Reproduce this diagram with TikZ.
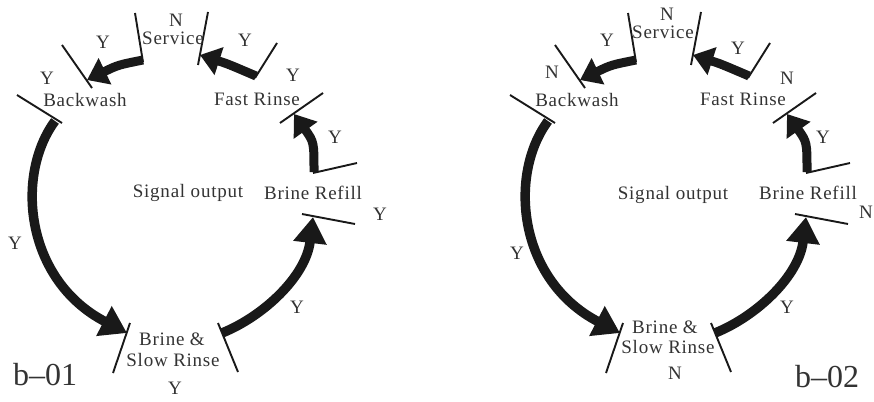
\documentclass[tikz,border=0pt]{standalone}
\usepackage{fontspec}
\setmainfont{Liberation Serif}
\newfontfamily\lblfont[LetterSpace=4]{Liberation Serif}
\usetikzlibrary{arrows.meta}
\definecolor{ink}{gray}{0.1}
\definecolor{txt}{gray}{0.2}
\tikzset{
 tickline/.style={draw=ink, line width=1.9pt},
 bigarrow/.style={draw=ink, line width=9.5pt, -{Triangle[length=26pt,width=32pt]}},
 smallarrow/.style={draw=ink, line width=9pt, -{Triangle[length=20pt,width=28pt]}},
 lbl/.style={text=txt, font=\lblfont\fontsize{19}{21}\selectfont, inner sep=0pt},
 tag/.style={text=txt, font=\fontsize{32}{34}\selectfont, inner sep=0pt}
}
% one wash cycle: ticks and arrows, coordinates named with prefix #1
\newcommand\drawcycle[1]{%
 \coordinate (#1bwl1) at (17,95);   \coordinate (#1bwl2) at (62,123);
 \coordinate (#1bwu1) at (62,45);   \coordinate (#1bwu2) at (92,88);
 \coordinate (#1svl1) at (135,13);  \coordinate (#1svl2) at (143,62);
 \coordinate (#1svr1) at (208,12);  \coordinate (#1svr2) at (198,65);
 \coordinate (#1fru1) at (277,43);  \coordinate (#1fru2) at (255,78);
 \coordinate (#1frl1) at (323,93);  \coordinate (#1frl2) at (280,123);
 \coordinate (#1bru1) at (313,173); \coordinate (#1bru2) at (357,163);
 \coordinate (#1brl1) at (302,214); \coordinate (#1brl2) at (355,224);
 \coordinate (#1bsr1) at (218,323); \coordinate (#1bsr2) at (238,372);
 \coordinate (#1bsl1) at (130,323); \coordinate (#1bsl2) at (113,373);
 % arrow ends
 \coordinate (#1sv) at (143,60);  \coordinate (#1bw) at (87,80);
 \coordinate (#1fr) at (256,76);  \coordinate (#1svt) at (200,55);
 \coordinate (#1br) at (314,172); \coordinate (#1frt) at (294,114);
 \coordinate (#1bws) at (55,121); \coordinate (#1bst) at (127,333);
 \coordinate (#1bss) at (222,333);\coordinate (#1brt) at (313,217);
 \foreach \t in {bwl,bwu,svl,svr,fru,frl,bru,brl,bsr,bsl}
   {\draw[tickline] (#1\t1) -- (#1\t2);}
 \draw[smallarrow] (#1sv) .. controls (118,65) .. (#1bw);
 \draw[smallarrow] (#1fr) .. controls (228,64) .. (#1svt);
 \draw[smallarrow] (#1br) .. controls (314,142) .. (#1frt);
 \draw[bigarrow] (#1bws) .. controls (15,175) and (25,280) .. (#1bst);
 \draw[bigarrow] (#1bss) .. controls (264,316) and (306,276) .. (#1brt);
}
\begin{document}
\begin{tikzpicture}[x=1pt,y=-1pt]
\useasboundingbox (0,0) rectangle (874,401);
\fill[white] (0,0) rectangle (874,401);
% ---------- left diagram b-01 ----------
\begin{scope}
 \drawcycle{L}
\end{scope}
\node[lbl] (LN1) at (176,20) {N};
\node[lbl] (Lsv) at (173,38) {Service};
\node[lbl] (LY1) at (103,42) {Y};
\node[lbl] (LY2) at (47,78) {Y};
\node[lbl] (Lbw) at (85,100) {Backwash};
\node[lbl] (LY3) at (245,40) {Y};
\node[lbl] (LY4) at (293,75) {Y};
\node[lbl] (Lfr) at (257,99) {Fast Rinse};
\node[lbl] (LY5) at (335,137) {Y};
\node[lbl] (Lbr) at (313,193) {Brine Refill};
\node[lbl] (LY6) at (380,214) {Y};
\node[lbl] (Lso) at (188,193) {Signal output};
\node[lbl] (LY7) at (15,243) {Y};
\node[lbl] (LY8) at (297,307) {Y};
\node[lbl] (Lbs1) at (172,339) {Brine \&};
\node[lbl] (Lbs2) at (173,360) {Slow Rinse};
\node[lbl] (LY9) at (175,388) {Y};
\node[tag] (Ltag) at (45,375) {b–01};
% ---------- right diagram b-02 ----------
\begin{scope}[xshift=493pt]
 \drawcycle{R}
\end{scope}
\node[lbl] (RN1) at (667,14) {N};
\node[lbl] (Rsv) at (663,32) {Service};
\node[lbl] (RY1) at (607,40) {Y};
\node[lbl] (RN2) at (552,72) {N};
\node[lbl] (Rbw) at (577,100) {Backwash};
\node[lbl] (RY3) at (738,48) {Y};
\node[lbl] (RN4) at (787,78) {N};
\node[lbl] (Rfr) at (743,99) {Fast Rinse};
\node[lbl] (RY5) at (823,137) {Y};
\node[lbl] (Rbr) at (808,193) {Brine Refill};
\node[lbl] (RN6) at (866,212) {N};
\node[lbl] (Rso) at (673,195) {Signal output};
\node[lbl] (RY7) at (517,253) {Y};
\node[lbl] (RY8) at (787,307) {Y};
\node[lbl] (Rbs1) at (665,327) {Brine \&};
\node[lbl] (Rbs2) at (668,347) {Slow Rinse};
\node[lbl] (RN9) at (675,373) {N};
\node[tag] (Rtag) at (827,377) {b–02};
\end{tikzpicture}
\end{document}
